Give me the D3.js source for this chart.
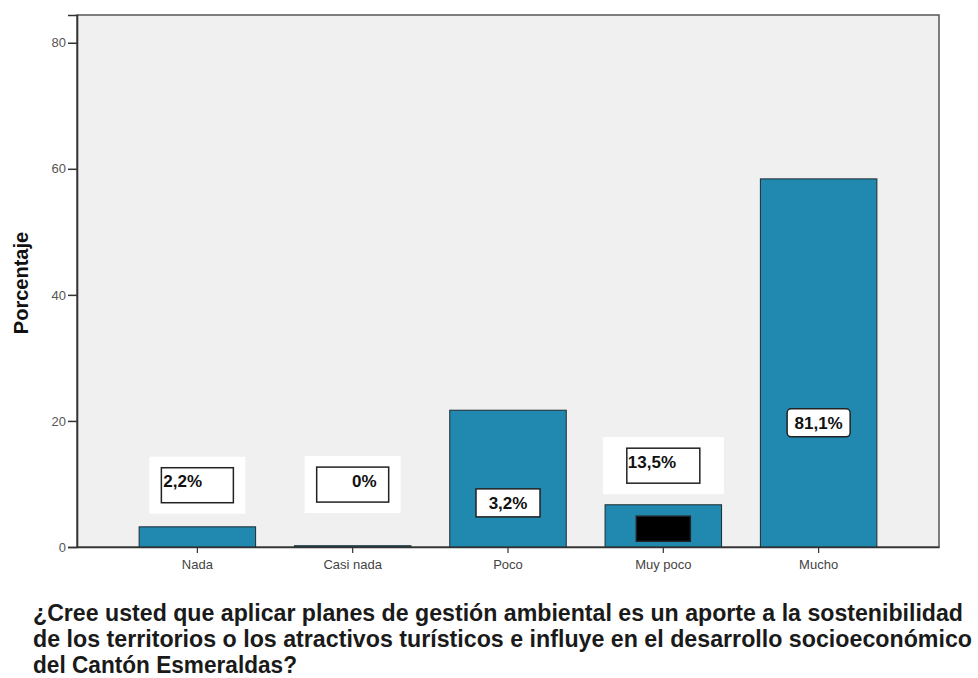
<!DOCTYPE html>
<html>
<head>
<meta charset="utf-8">
<script src="https://cdn.jsdelivr.net/npm/d3@7"></script>
<style>
  body { margin: 0; background: #fff; }
  svg { display: block; font-family: Arial, 'Liberation Sans', sans-serif; }
</style>
</head>
<body>
<svg id="chart"></svg>
<script>
const categories = ['Nada', 'Casi nada', 'Poco', 'Muy poco', 'Mucho'];
const percentages = [3.2, 0.2, 21.7, 6.7, 58.4];
const labelTexts = ['2,2%', '0%', '3,2%', '13,5%', '81,1%', ''];
const labelLevels = [9.8, 9.9, 7.0, 12.9, 19.7, 2.9];
const labelBars = ['Nada', 'Casi nada', 'Poco', 'Muy poco', 'Mucho', 'Muy poco'];
const yTicks = [0, 20, 40, 60, 80];
const titleLines = [
  '¿Cree usted que aplicar planes de gestión ambiental es un aporte a la sostenibilidad',
  'de los territorios o los atractivos turísticos e influye en el desarrollo socioeconómico',
  'del Cantón Esmeraldas?',
];

// how each label box is drawn
const labelStyles = [
  { w: 72, h: 35, halo: [12, 11], anchor: 'start', dx: 2, fill: '#fff' },
  { w: 72, h: 35, halo: [12, 11], anchor: 'end', dx: -12, fill: '#fff' },
  { w: 64, h: 28, halo: null, anchor: 'middle', dx: 0, fill: '#fff' },
  { w: 73, h: 35, halo: [24, 11], anchor: 'start', dx: 1, fill: '#fff' },
  { w: 63, h: 28, halo: null, anchor: 'middle', dx: 0, fill: '#fff', rx: 4 },
  { w: 54, h: 25, halo: null, anchor: 'middle', dx: 0, fill: '#000' },
];

const W = 978, H = 678;
const margin = { top: 15, right: 39, bottom: 131, left: 77 };
const width = W - margin.left - margin.right;
const height = H - margin.top - margin.bottom;

const svgEl = d3.select('#chart').attr('width', W).attr('height', H);

const svg = svgEl.append('g')
  .attr('transform', `translate(${margin.left},${margin.top})`);

const x = d3.scaleBand()
  .domain(categories)
  .range([0, width])
  .paddingInner(0.25)
  .paddingOuter(0.4);

const y = d3.scaleLinear()
  .domain([0, 84.4])
  .range([height, 0]);

// plot background + frame
svg.append('rect')
  .attr('width', width)
  .attr('height', height)
  .attr('fill', '#f0f0f0')
  .attr('stroke', '#555')
  .attr('stroke-width', 1.5);

// bars
svg.selectAll('.bar')
  .data(categories)
  .enter()
  .append('rect')
  .attr('class', 'bar')
  .attr('x', (c) => x(c))
  .attr('width', x.bandwidth())
  .attr('y', (c, i) => y(percentages[i]))
  .attr('height', (c, i) => height - y(percentages[i]))
  .attr('fill', '#2188b0')
  .attr('stroke', '#1d2a30')
  .attr('stroke-width', 1);

// y axis
const yAxis = svg.append('g')
  .call(d3.axisLeft(y).tickValues(yTicks).tickSize(9).tickPadding(2));
yAxis.select('.domain').attr('stroke', '#333').attr('stroke-width', 1.6);
yAxis.selectAll('.tick line').attr('stroke', '#333').attr('stroke-width', 1.5);
yAxis.selectAll('.tick text')
  .attr('fill', '#555')
  .style('font-size', '13px');

// x axis
const xAxis = svg.append('g')
  .attr('transform', `translate(0,${height})`)
  .call(d3.axisBottom(x).tickSize(6).tickSizeOuter(0).tickPadding(7));
xAxis.select('.domain').attr('stroke', '#333').attr('stroke-width', 1.6);
xAxis.selectAll('.tick line').attr('stroke', '#333').attr('stroke-width', 1.2);
xAxis.selectAll('.tick text')
  .attr('fill', '#444')
  .style('font-size', '13px');

// y axis title
svg.append('text')
  .attr('transform', `translate(${-49},${283 - margin.top}) rotate(-90)`)
  .attr('text-anchor', 'middle')
  .style('font-size', '20px')
  .style('font-weight', 'bold')
  .attr('fill', '#111')
  .text('Porcentaje');

// value labels
const labels = svg.selectAll('.lbl')
  .data(labelTexts)
  .enter()
  .append('g')
  .attr('class', 'lbl')
  .attr('transform', (t, i) =>
    `translate(${x(labelBars[i]) + x.bandwidth() / 2},${y(labelLevels[i])})`);

labels.each(function (t, i) {
  const s = labelStyles[i];
  const g = d3.select(this);
  if (s.halo) {
    g.append('rect')
      .attr('x', -s.w / 2 - s.halo[0])
      .attr('y', -s.h / 2 - s.halo[1])
      .attr('width', s.w + s.halo[0] * 2)
      .attr('height', s.h + s.halo[1] * 2)
      .attr('fill', '#fff');
  }
  g.append('rect')
    .attr('x', -s.w / 2)
    .attr('y', -s.h / 2)
    .attr('width', s.w)
    .attr('height', s.h)
    .attr('rx', s.rx || 0)
    .attr('fill', s.fill)
    .attr('stroke', '#222')
    .attr('stroke-width', 1.5);
  if (!t) return;
  const tx = s.anchor === 'start' ? -s.w / 2 + s.dx
    : s.anchor === 'end' ? s.w / 2 + s.dx : 0;
  g.append('text')
    .attr('x', tx)
    .attr('y', s.h > 30 ? 2 : 6)
    .attr('text-anchor', s.anchor)
    .style('font-size', '17px')
    .style('font-weight', 'bold')
    .attr('fill', '#111')
    .text(t);
});

// question text
const titleWidths = [930, 939, 264];
svgEl.append('g')
  .selectAll('text')
  .data(titleLines)
  .enter()
  .append('text')
  .attr('x', 33)
  .attr('y', (d, i) => 621 + i * 26)
  .attr('textLength', (d, i) => titleWidths[i])
  .attr('lengthAdjust', 'spacingAndGlyphs')
  .style('font-size', '23px')
  .style('font-weight', 'bold')
  .attr('fill', '#1a1a1a')
  .text((d) => d);
</script>
</body>
</html>
